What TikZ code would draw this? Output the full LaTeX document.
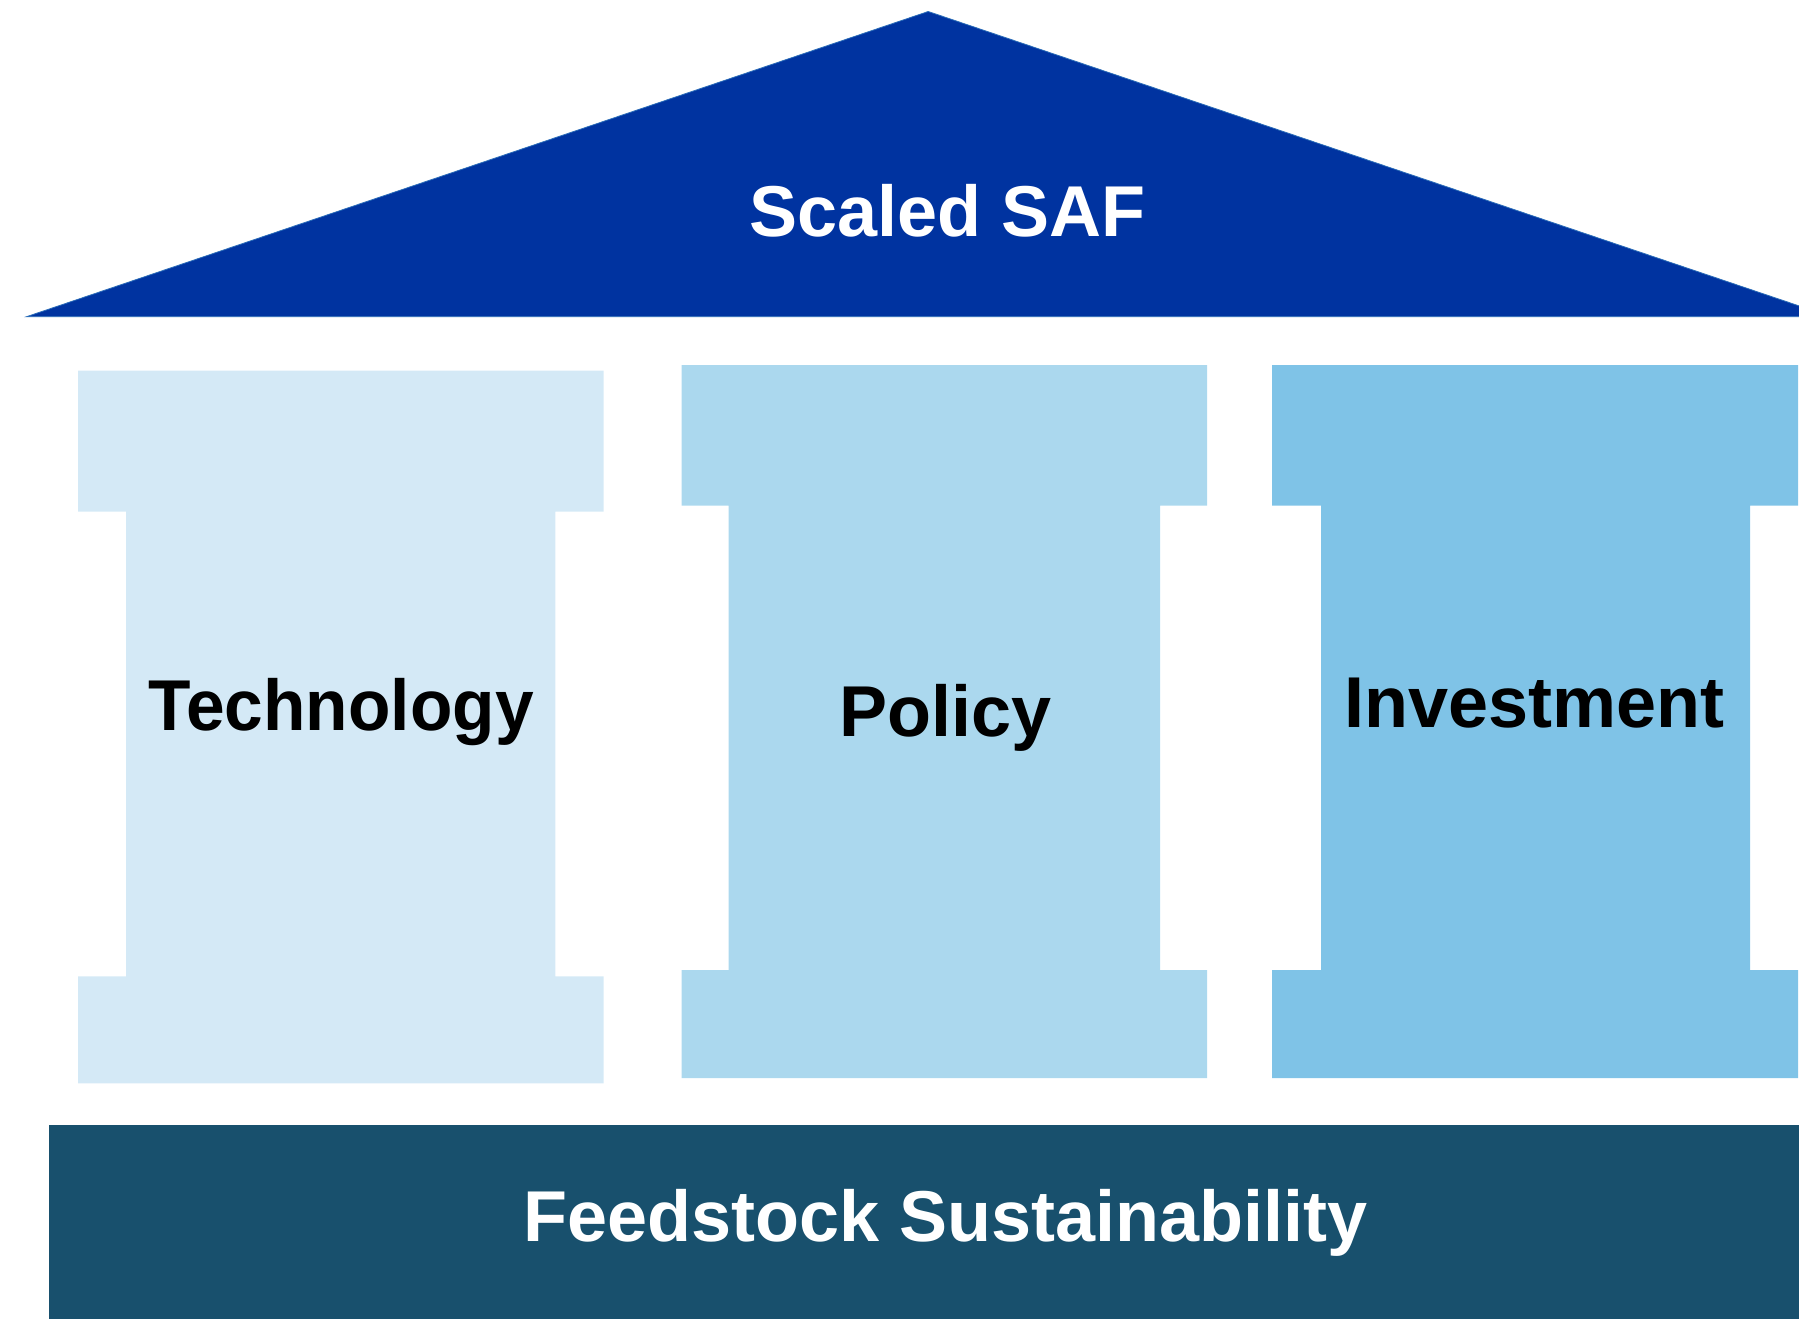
\documentclass[tikz,border=0pt]{standalone}
\usepackage{fontspec}
\setmainfont{Liberation Sans}
\definecolor{roofblue}{HTML}{0033A0}
\definecolor{roofedge}{HTML}{2A6CB8}
\definecolor{techcol}{HTML}{D4E9F6}
\definecolor{polcol}{HTML}{ABD8EE}
\definecolor{invcol}{HTML}{7FC3E7}
\definecolor{basecol}{HTML}{18506D}
\tikzset{
  lbl/.style={anchor=base, inner sep=0pt, font=\fontsize{72}{80}\selectfont\bfseries},
}
% pillar: #1 left, #2 right, #3 shaft left, #4 shaft right, #5 top, #6 cap bottom, #7 base top, #8 bottom, #9 colour
\newcommand{\mypillar}[9]{%
  \fill[#9] (#1,#5) -- (#2,#5) -- (#2,#6) -- (#4,#6) -- (#4,#7) -- (#2,#7) -- (#2,#8)
    -- (#1,#8) -- (#1,#7) -- (#3,#7) -- (#3,#6) -- (#1,#6) -- cycle;}
\begin{document}
\begin{tikzpicture}[x=1pt,y=-1pt]
\useasboundingbox (0,0) rectangle (1799,1318);
\begin{scope}
\clip (0,0) rectangle (1799,1318);
% roof
\fill[roofblue, draw=roofedge, line width=0.8pt] (928.2,11.5) -- (1831,316.7) -- (26.5,316.7) -- cycle;
% pillars
\mypillar{78}{603.5}{126.2}{555.3}{370.6}{511.7}{976.4}{1083.4}{techcol}
\mypillar{681.5}{1207}{728.5}{1160}{365}{505.7}{970}{1078}{polcol}
\mypillar{1272}{1798}{1321}{1750}{365}{505.7}{970}{1078}{invcol}
% foundation
\fill[basecol] (49.3,1125) rectangle (1820,1330);
\end{scope}
\node[lbl, text=white] (roof) at (947.7,236.3) {Scaled SAF};
\node[lbl, text=black, xscale=0.965] (tech) at (341.3,730.8) {Technology};
\node[lbl, text=black] (pol) at (945.4,736.6) {Policy};
\node[lbl, text=black] (inv) at (1534.5,727.4) {Investment};
\node[lbl, text=white] (found) at (945.4,1241.4) {Feedstock Sustainability};
\end{tikzpicture}
\end{document}
